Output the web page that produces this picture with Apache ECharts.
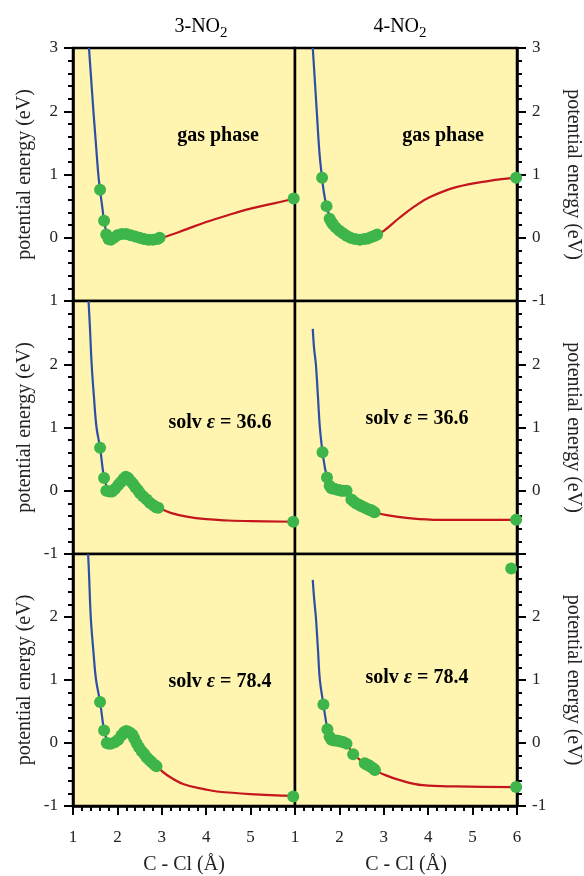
<!DOCTYPE html>
<html>
<head>
<meta charset="utf-8">
<script src="https://cdn.jsdelivr.net/npm/echarts@6/dist/echarts.min.js"></script>
<style>
  html, body { margin: 0; padding: 0; background: #fff; }
  #chart { width: 584px; height: 876px; }
</style>
</head>
<body>
<div id="chart"></div>
<script>
const serif = '"Liberation Serif", "DejaVu Serif", serif';
const bgColor = '#FFF5B0';
const blueColor = '#2D4FA8';
const redColor = '#C4161C';
const greenColor = '#3DB54A';

// tick values and the labels shown at them (overlapping edges keep only one)
const yTickValues = [-1, 0, 1, 2, 3];
const yLabelsTL = ['', '0', '1', '2', '3'];
const yLabelsML = ['', '0', '1', '2', '1'];
const yLabelsBL = ['-1', '0', '1', '2', '-1'];
const yLabelsTR = ['', '0', '1', '2', '3'];
const yLabelsMR = ['', '0', '1', '2', '-1'];
const yLabelsBR = ['-1', '0', '1', '2', ''];
const xTickValues = [1, 2, 3, 4, 5, 6];
const xLabelsLeft = ['1', '2', '3', '4', '5', ''];
const xLabelsRight = ['1', '2', '3', '4', '5', '6'];

// 3-NO2, gas phase
const blueTL = [[1.36, 3.0], [1.40, 2.6], [1.46, 2.0], [1.52, 1.45], [1.57, 1.0], [1.61, 0.75], [1.66, 0.48], [1.70, 0.27], [1.76, 0.05]];
const redTL = [[1.76, 0.05], [1.85, -0.02], [2.0, 0.03], [2.2, 0.06], [2.5, 0.0], [2.8, -0.03], [3.0, 0.0], [3.5, 0.12], [4.0, 0.25], [4.5, 0.36], [5.0, 0.46], [5.5, 0.54], [6.0, 0.62]];
const dotsTL = [[1.61, 0.76], [1.70, 0.27], [1.75, 0.05], [1.80, -0.02], [1.85, -0.03], [1.92, 0.0], [2.0, 0.04], [2.1, 0.06], [2.2, 0.06], [2.3, 0.04], [2.4, 0.02], [2.5, 0.0], [2.6, -0.02], [2.7, -0.03], [2.8, -0.03], [2.9, -0.02], [2.95, 0.0], [5.97, 0.62]];

// 4-NO2, gas phase
const blueTR = [[1.40, 3.0], [1.45, 2.45], [1.49, 2.0], [1.55, 1.35], [1.60, 1.0], [1.65, 0.72], [1.71, 0.50], [1.79, 0.32]];
const redTR = [[1.79, 0.32], [1.86, 0.21], [2.01, 0.11], [2.16, 0.03], [2.46, -0.03], [2.69, 0.0], [2.85, 0.05], [3.0, 0.11], [3.36, 0.32], [3.7, 0.5], [4.03, 0.64], [4.63, 0.80], [5.38, 0.9], [6.0, 0.95]];
const dotsTR = [[1.61, 0.95], [1.71, 0.50], [1.78, 0.30], [1.82, 0.25], [1.86, 0.21], [1.92, 0.16], [2.0, 0.11], [2.08, 0.07], [2.16, 0.03], [2.25, 0.0], [2.35, -0.02], [2.46, -0.03], [2.56, -0.02], [2.64, -0.01], [2.72, 0.01], [2.8, 0.03], [2.85, 0.05], [5.98, 0.95]];

// 3-NO2, solv 36.6
const blueML = [[1.35, 3.0], [1.38, 2.6], [1.42, 2.0], [1.47, 1.5], [1.53, 1.0], [1.61, 0.68], [1.70, 0.20], [1.77, 0.05]];
const redML = [[1.77, 0.03], [1.82, -0.01], [1.92, 0.0], [2.06, 0.12], [2.19, 0.25], [2.30, 0.17], [2.40, 0.07], [2.51, -0.04], [2.66, -0.14], [2.81, -0.24], [2.92, -0.27], [3.2, -0.35], [3.56, -0.41], [4.0, -0.45], [4.5, -0.47], [5.0, -0.48], [6.0, -0.49]];
const dotsML = [[1.61, 0.68], [1.70, 0.20], [1.75, 0.0], [1.82, -0.01], [1.88, -0.01], [1.95, 0.03], [2.02, 0.09], [2.08, 0.14], [2.14, 0.19], [2.19, 0.22], [2.24, 0.2], [2.30, 0.15], [2.35, 0.11], [2.40, 0.06], [2.46, 0.01], [2.51, -0.04], [2.58, -0.09], [2.66, -0.14], [2.73, -0.19], [2.81, -0.23], [2.87, -0.26], [2.92, -0.27], [5.96, -0.49]];

// 4-NO2, solv 36.6
const blueMR = [[1.40, 2.56], [1.43, 2.25], [1.47, 2.0], [1.52, 1.45], [1.56, 1.0], [1.62, 0.61], [1.67, 0.38], [1.72, 0.21], [1.76, 0.1]];
const redMR = [[1.76, 0.1], [1.82, 0.04], [1.93, 0.02], [2.04, 0.0], [2.16, -0.02], [2.27, -0.14], [2.38, -0.2], [2.49, -0.24], [2.61, -0.28], [2.72, -0.31], [2.79, -0.34], [3.1, -0.39], [3.51, -0.43], [4.26, -0.46], [5.0, -0.46], [6.0, -0.46]];
const dotsMR = [[1.62, 0.61], [1.72, 0.21], [1.78, 0.08], [1.82, 0.04], [1.88, 0.03], [1.93, 0.02], [1.99, 0.01], [2.04, 0.0], [2.1, 0.0], [2.16, 0.0], [2.27, -0.14], [2.32, -0.17], [2.38, -0.2], [2.44, -0.22], [2.49, -0.24], [2.55, -0.26], [2.61, -0.28], [2.67, -0.3], [2.72, -0.31], [2.76, -0.33], [2.79, -0.34], [5.98, -0.46]];

// 3-NO2, solv 78.4
const blueBL = [[1.34, 3.0], [1.36, 2.7], [1.40, 2.0], [1.46, 1.45], [1.52, 1.0], [1.61, 0.65], [1.70, 0.20], [1.76, 0.06]];
const redBL = [[1.76, 0.03], [1.80, -0.01], [1.86, -0.01], [2.02, 0.05], [2.15, 0.17], [2.24, 0.18], [2.34, 0.13], [2.43, 0.0], [2.55, -0.13], [2.66, -0.23], [2.77, -0.3], [2.88, -0.37], [3.1, -0.5], [3.48, -0.65], [4.0, -0.74], [4.24, -0.77], [4.99, -0.81], [6.0, -0.84]];
const dotsBL = [[1.61, 0.65], [1.70, 0.20], [1.76, 0.0], [1.80, -0.01], [1.86, -0.01], [1.94, 0.01], [2.02, 0.05], [2.09, 0.12], [2.15, 0.17], [2.2, 0.19], [2.24, 0.18], [2.29, 0.16], [2.34, 0.13], [2.38, 0.07], [2.43, 0.0], [2.49, -0.07], [2.55, -0.13], [2.61, -0.18], [2.66, -0.23], [2.72, -0.27], [2.77, -0.3], [2.83, -0.34], [2.88, -0.37], [5.96, -0.85]];

// 4-NO2, solv 78.4
const blueBR = [[1.40, 2.59], [1.43, 2.3], [1.47, 2.0], [1.52, 1.45], [1.56, 1.0], [1.64, 0.61], [1.69, 0.38], [1.73, 0.22], [1.77, 0.12]];
const redBR = [[1.77, 0.1], [1.82, 0.05], [1.93, 0.04], [2.04, 0.02], [2.16, -0.01], [2.31, -0.18], [2.45, -0.26], [2.57, -0.32], [2.69, -0.37], [2.80, -0.43], [3.0, -0.5], [3.36, -0.59], [3.88, -0.67], [4.63, -0.69], [6.0, -0.70]];
const dotsBR = [[1.64, 0.61], [1.73, 0.22], [1.78, 0.1], [1.82, 0.05], [1.88, 0.04], [1.93, 0.04], [1.99, 0.03], [2.04, 0.02], [2.1, 0.01], [2.16, -0.01], [2.31, -0.18], [2.57, -0.32], [2.61, -0.34], [2.65, -0.35], [2.69, -0.37], [2.73, -0.39], [2.77, -0.41], [2.80, -0.43], [5.98, -0.70], [5.87, 2.77]];

const panels = [
    {blue: blueTL, red: redTL, dots: dotsTL, yLabels: yLabelsTL, side: 'left', row: 0},
    {blue: blueTR, red: redTR, dots: dotsTR, yLabels: yLabelsTR, side: 'right', row: 0},
    {blue: blueML, red: redML, dots: dotsML, yLabels: yLabelsML, side: 'left', row: 1},
    {blue: blueMR, red: redMR, dots: dotsMR, yLabels: yLabelsMR, side: 'right', row: 1},
    {blue: blueBL, red: redBL, dots: dotsBL, yLabels: yLabelsBL, side: 'left', row: 2},
    {blue: blueBR, red: redBR, dots: dotsBR, yLabels: yLabelsBR, side: 'right', row: 2}
];

const rowTops = [48, 301, 554];
const rowHeight = 253;

const chart = echarts.init(document.getElementById('chart'));

const grid = [], xAxis = [], yAxis = [], series = [];
panels.forEach(function (p, i) {
    const isLeft = p.side === 'left';
    const isBottom = p.row === 2;
    grid.push({
        left: isLeft ? 73 : 295,
        top: rowTops[p.row],
        width: isLeft ? 222 : 223,
        height: rowHeight,
        show: true,
        backgroundColor: bgColor,
        borderColor: '#000',
        borderWidth: 2.5
    });
    const xLabels = isLeft ? xLabelsLeft : xLabelsRight;
    xAxis.push({
        type: 'value',
        gridIndex: i,
        position: 'bottom',
        min: 1,
        max: 6,
        interval: 1,
        name: isBottom ? 'C - Cl (\u00C5)' : '',
        nameLocation: 'middle',
        nameGap: 49,
        nameTextStyle: {fontFamily: serif, fontSize: 20, color: '#222'},
        axisLine: {show: isBottom, onZero: false, lineStyle: {color: '#000', width: 2.5}},
        axisTick: {show: isBottom, length: 9, lineStyle: {color: '#000', width: 2}},
        minorTick: {show: isBottom, splitNumber: 5, length: 5, lineStyle: {color: '#000', width: 2}},
        axisLabel: {
            show: isBottom,
            margin: 23,
            fontFamily: serif,
            fontSize: 17,
            color: '#222',
            showMinLabel: true,
            showMaxLabel: true,
            formatter: function (v) {
                const k = xTickValues.indexOf(v);
                return k < 0 ? '' : xLabels[k];
            }
        },
        splitLine: {show: false}
    });
    yAxis.push({
        type: 'value',
        gridIndex: i,
        position: p.side,
        min: -1,
        max: 3,
        interval: 1,
        name: 'potential energy (eV)',
        nameLocation: 'middle',
        nameRotate: isLeft ? 90 : -90,
        nameGap: isLeft ? 38 : 46,
        nameTextStyle: {fontFamily: serif, fontSize: 20, color: '#222'},
        axisLine: {show: true, onZero: false, lineStyle: {color: '#000', width: 2.5}},
        axisTick: {show: true, length: 9, lineStyle: {color: '#000', width: 2}},
        minorTick: {show: true, splitNumber: 5, length: 5, lineStyle: {color: '#000', width: 2}},
        axisLabel: {
            margin: 15,
            fontFamily: serif,
            fontSize: 17,
            color: '#222',
            showMinLabel: true,
            showMaxLabel: true,
            formatter: function (v) {
                const k = yTickValues.indexOf(v);
                return k < 0 ? '' : p.yLabels[k];
            }
        },
        splitLine: {show: false}
    });
    series.push({
        type: 'line',
        xAxisIndex: i,
        yAxisIndex: i,
        data: p.red,
        smooth: 0.4,
        symbol: 'none',
        lineStyle: {color: redColor, width: 2.2},
        z: 2
    });
    series.push({
        type: 'line',
        xAxisIndex: i,
        yAxisIndex: i,
        data: p.blue,
        smooth: 0.4,
        symbol: 'none',
        lineStyle: {color: blueColor, width: 2.2},
        z: 3
    });
    series.push({
        type: 'scatter',
        xAxisIndex: i,
        yAxisIndex: i,
        data: p.dots,
        symbolSize: 12,
        itemStyle: {color: greenColor, opacity: 1},
        z: 4
    });
});

const titleRich = {
    a: {fontFamily: serif, fontSize: 20, color: '#222'},
    s: {fontFamily: serif, fontSize: 15, color: '#222', padding: [13, 0, 0, 0]}
};
const noteRich = {
    a: {fontFamily: serif, fontSize: 20, fontWeight: 'bold', color: '#222'},
    e: {fontFamily: serif, fontSize: 20, fontWeight: 'bold', fontStyle: 'italic', color: '#222'}
};

function textAt(x, y, text, rich) {
    return {
        type: 'text',
        x: x,
        y: y,
        z: 100,
        style: {text: text, rich: rich, align: 'center', verticalAlign: 'middle'}
    };
}

const option = {
    animation: false,
    grid: grid,
    xAxis: xAxis,
    yAxis: yAxis,
    series: series,
    graphic: [
        textAt(201, 27, '{a|3-NO}{s|2}', titleRich),
        textAt(400, 27, '{a|4-NO}{s|2}', titleRich),
        textAt(218, 136, '{a|gas phase}', noteRich),
        textAt(443, 136, '{a|gas phase}', noteRich),
        textAt(220, 423, '{a|solv }{e|\u03B5}{a| = 36.6}', noteRich),
        textAt(417, 419, '{a|solv }{e|\u03B5}{a| = 36.6}', noteRich),
        textAt(220, 682, '{a|solv }{e|\u03B5}{a| = 78.4}', noteRich),
        textAt(417, 678, '{a|solv }{e|\u03B5}{a| = 78.4}', noteRich)
    ]
};

chart.setOption(option);
</script>
</body>
</html>
